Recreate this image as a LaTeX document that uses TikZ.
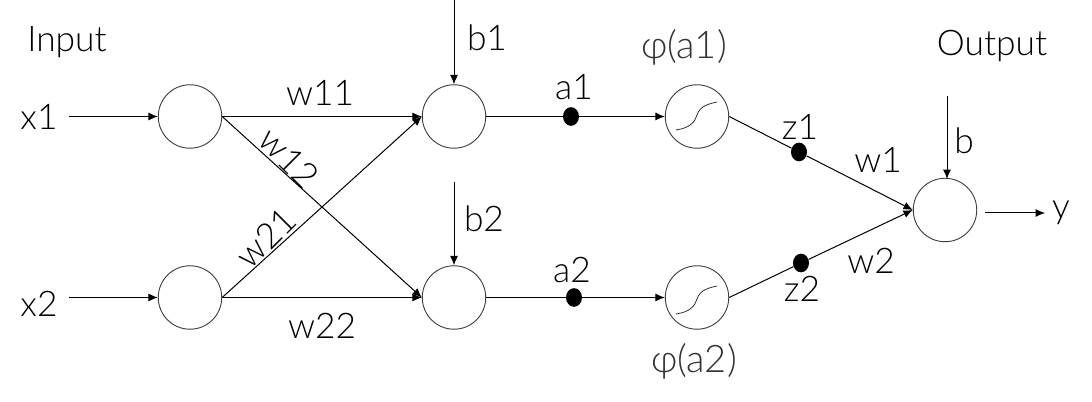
\documentclass[tikz,border=0pt]{standalone}
\usepackage{fontspec}
\setmainfont{Lato}[UprightFont=* Light]
\usetikzlibrary{arrows.meta,shapes.geometric}
\tikzset{
	neuron/.style={draw=black!75,circle,minimum size=47.6,inner sep=0pt,line width=.7pt},
	junction/.style={fill=black,ellipse,minimum width=12,minimum height=14,inner sep=0pt},
	lab/.style={inner sep=0pt,font=\fontsize{26.5}{26.5}\selectfont},
	philab/.style={inner sep=0pt,text=black!80,font=\fontsize{28.5}{28.5}\selectfont},
	conn/.style={line width=.75pt,-{Latex[length=7pt,width=6pt]}},
	plain/.style={line width=.75pt},
	sigmoid/.style={line width=.6pt,black!80},
}
\begin{document}
\begin{tikzpicture}[x=.75pt,y=.75pt]
\useasboundingbox (0,0) rectangle (1092,402);

% layers of neurons
\node[neuron] (in1) at (190,402-116.5) {};
\node[neuron] (in2) at (190,402-297.5) {};
\node[neuron] (hid1) at (454,402-116.5) {};
\node[neuron] (hid2) at (454,402-297.5) {};
\node[neuron] (act1) at (697,402-116.5) {};
\node[neuron] (act2) at (697,402-297.5) {};
\node[neuron] (out) at (945,402-210) {};

% measuring points
\node[junction] (a1) at (571,402-116.5) {};
\node[junction] (a2) at (574,402-297.5) {};
\node[junction] (z1) at (799,402-152) {};
\node[junction] (z2) at (801,402-263) {};

% free ends
\coordinate (x1end) at (69,402-116.5);
\coordinate (x2end) at (69,402-297.5);
\coordinate (b1end) at (454,402);
\coordinate (b2end) at (454,402-182);
\coordinate (bend) at (947,402-96);
\coordinate (bhead) at (947,402-179);
\coordinate (ystart) at (985,402-213);
\coordinate (yend) at (1045,402-213);

% inputs
\draw[conn] (x1end) -- (in1);
\draw[conn] (x2end) -- (in2);
\draw[conn] (b1end) -- (hid1);
\draw[conn] (b2end) -- (hid2);
\draw[conn] (bend) -- (bhead);

% weights
\draw[conn] (in1) -- (hid1);
\draw[conn] (in1.east) -- (hid2.west);
\draw[conn] (in2.east) -- (hid1.west);
\draw[conn] (in2) -- (hid2);

% hidden to activation
\draw[plain] (hid1) -- (a1);
\draw[plain] (hid2) -- (a2);
\draw[conn] (a1) -- (act1);
\draw[conn] (a2) -- (act2);

% activation to output
\draw[plain] (act1.east) -- (z1);
\draw[plain] (act2.east) -- (z2);
\draw[conn] (z1) -- (out.west);
\draw[conn] (z2) -- (out.west);
\draw[conn] (ystart) -- (yend);

% sigmoid curves
\draw[sigmoid] (676,402-130) .. controls (690,402-128) and (695,402-122) .. (697,402-115)
	.. controls (700,402-106) and (708,402-104) .. (717,402-102);
\draw[sigmoid] (676,402-314) .. controls (690,402-312) and (695,402-306) .. (697,402-299)
	.. controls (700,402-290) and (708,402-288) .. (717,402-286);

% labels
\node[lab] (inputlab) at (67,402-42) {Input};
\node[lab] (outputlab) at (992,402-46) {Output};
\node[lab] (x1lab) at (39,402-117) {x1};
\node[lab] (x2lab) at (39,402-304) {x2};
\node[lab] (ylab) at (1061,402-213) {y};
\node[lab] (b1lab) at (487,402-38) {b1};
\node[lab] (b2lab) at (484,402-219) {b2};
\node[lab] (blab) at (964,402-141) {b};
\node[lab] (w11lab) at (320,402-93) {w11};
\node[lab] (w22lab) at (322,402-326) {w22};
\node[lab,rotate=-45] (w12lab) at (289,402-158) {w12};
\node[lab,rotate=45] (w21lab) at (266,402-238) {w21};
\node[lab] (a1lab) at (574,402-87) {a1};
\node[lab] (a2lab) at (572,402-270) {a2};
\node[philab] (phi1lab) at (684,402-47) {φ(a1)};
\node[philab] (phi2lab) at (694,402-361) {φ(a2)};
\node[lab] (z1lab) at (800,402-127) {z1};
\node[lab] (z2lab) at (802,402-289) {z2};
\node[lab] (w1lab) at (878,402-160) {w1};
\node[lab] (w2lab) at (871,402-261) {w2};
\end{tikzpicture}
\end{document}
